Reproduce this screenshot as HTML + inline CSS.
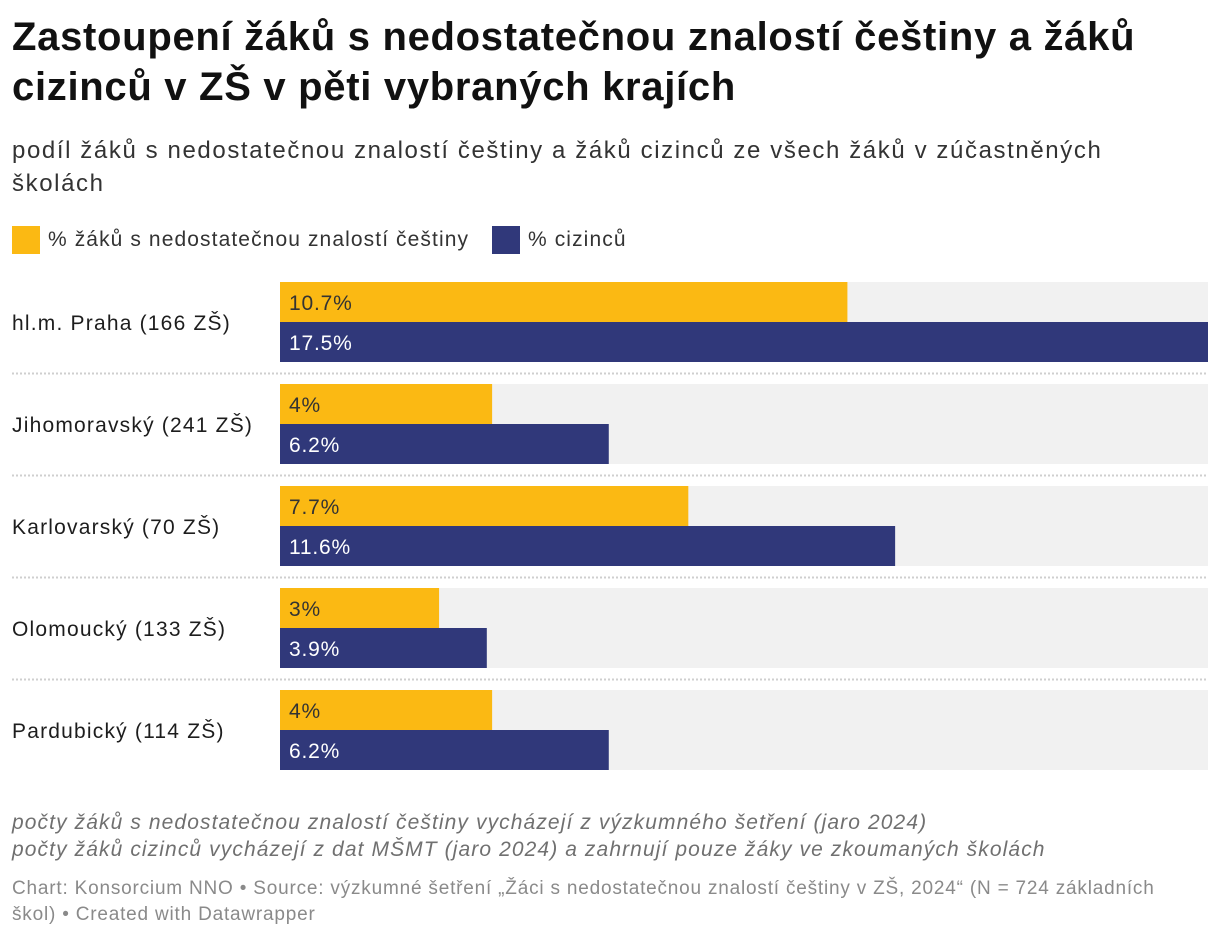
<!DOCTYPE html>
<html><head><meta charset="utf-8">
<style>
body{margin:0;width:1220px;height:938px;background:#fff;font-family:"Liberation Sans","DejaVu Sans",sans-serif;color:#1d1d1d;position:relative;overflow:hidden}
.t{position:absolute;left:12px;top:12px;font-size:40px;font-weight:bold;line-height:50px;width:1180px;letter-spacing:0.7px;color:#111}
.s{position:absolute;left:12px;top:134px;font-size:24px;line-height:33px;color:#333;width:1190px;letter-spacing:1.6px}
.lg{position:absolute;top:226px;font-size:21px;color:#333;display:flex;align-items:center;letter-spacing:1.1px}
.sw{width:28px;height:28px;margin-right:8px}
.n{position:absolute;left:12px;font-size:21px;font-style:italic;color:#707070;letter-spacing:1.1px;white-space:nowrap}
.c{position:absolute;left:12px;top:876px;font-size:19px;line-height:26px;color:#8a8a8a;width:1185px;letter-spacing:0.8px}
</style></head><body>
<div class="t">Zastoupení žáků s nedostatečnou znalostí češtiny a žáků cizinců v ZŠ v pěti vybraných krajích</div>
<div class="s">podíl žáků s nedostatečnou znalostí češtiny a žáků cizinců ze všech žáků v zúčastněných<br>školách</div>
<div class="lg" style="left:12px"><div class="sw" style="background:#fbb913"></div>% žáků s nedostatečnou znalostí češtiny</div>
<div class="lg" style="left:492px"><div class="sw" style="background:#30387a"></div>% cizinců</div>
<svg id="chart" width="1220" height="938" style="position:absolute;left:0;top:0"></svg>
<div class="n" style="top:811px">počty žáků s nedostatečnou znalostí češtiny vycházejí z výzkumného šetření (jaro 2024)</div>
<div class="n" style="top:838px">počty žáků cizinců vycházejí z dat MŠMT (jaro 2024) a zahrnují pouze žáky ve zkoumaných školách</div>
<div class="c">Chart: Konsorcium NNO • Source: výzkumné šetření „Žáci s nedostatečnou znalostí češtiny v ZŠ, 2024“ (N = 724 základních škol) • Created with Datawrapper</div>
<script>
const categories=["hl.m. Praha (166 ZŠ)","Jihomoravský (241 ZŠ)","Karlovarský (70 ZŠ)","Olomoucký (133 ZŠ)","Pardubický (114 ZŠ)"];
const czechValues=[10.7,4,7.7,3,4];
const foreignValues=[17.5,6.2,11.6,3.9,6.2];
const maxValue=17.5;
const svg=document.getElementById('chart');
const NS='http://www.w3.org/2000/svg';
const x0=280,W=928,top0=282,pitch=102,bh=40;
const xs=v=>v/maxValue*W;
function mk(t,a){const e=document.createElementNS(NS,t);for(const k in a)e.setAttribute(k,a[k]);svg.appendChild(e);return e;}
categories.forEach((c,i)=>{
 const y=top0+i*pitch;
 const bg=mk('rect',{x:x0,y:y,width:W,height:2*bh,fill:'#f1f1f1'});
 
 
 const lb=mk('text',{x:12,y:y+bh+8,'font-size':21,'letter-spacing':1.2,fill:'#1d1d1d'});lb.textContent=c;
 
 
 const b1=mk('rect',{x:x0,y:y,width:xs(czechValues[i]),height:bh,fill:'#fbb913'});
 
 
 const t1=mk('text',{x:x0+9,y:y+28,'font-size':21,'letter-spacing':0.8,fill:'#333'});t1.textContent=czechValues[i]+'%';
 
 
 const b2=mk('rect',{x:x0,y:y+bh,width:xs(foreignValues[i]),height:bh,fill:'#30387a'});
 
 
 const t2=mk('text',{x:x0+9,y:y+bh+28,'font-size':21,'letter-spacing':0.8,fill:'#fff'});t2.textContent=foreignValues[i]+'%';
 
 
 if(i<categories.length-1){
  const l=mk('line',{x1:12,x2:1208,y1:y+91.5,y2:y+91.5,stroke:'#cfcfcf','stroke-width':2,'stroke-dasharray':'2,2'});
  
  
 }
});
</script>
</body></html>
